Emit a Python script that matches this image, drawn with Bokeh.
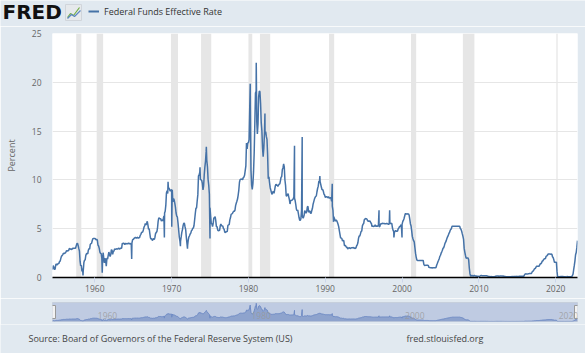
import numpy as np
import pandas as pd
from bokeh.plotting import figure
from bokeh.layouts import column
from bokeh.models import (Range1d, FixedTicker, DatetimeTickFormatter, Label,
                          Legend, LegendItem)
from bokeh.embed import file_html
from bokeh.resources import INLINE

# ---------------- data ----------------
series_start = "1954-07-01"   # monthly, first value

ff_1950s = [0.80, 1.22, 1.07, 0.85, 0.83, 1.28,
            1.39, 1.29, 1.35, 1.43, 1.43, 1.64, 1.68, 1.96, 2.18, 2.24, 2.35, 2.48,
            2.45, 2.50, 2.50, 2.62, 2.75, 2.71, 2.75, 2.73, 2.95, 2.96, 2.88, 2.94,
            2.84, 3.00, 2.96, 3.00, 3.00, 3.00, 2.99, 3.24, 3.47, 3.50, 3.28, 2.98,
            2.72, 1.67, 1.20, 1.26, 0.63, 0.93, 0.68, 1.53, 1.76, 1.80, 2.27, 2.42,
            2.48, 2.43, 2.80, 2.96, 2.90, 3.39, 3.47, 3.50, 3.76, 3.98, 4.00, 3.99]
ff_1960s = [3.99, 3.97, 3.84, 3.92, 3.85, 3.32, 3.23, 2.98, 2.60, 2.47, 2.44, 1.98,
            1.45, 2.54, 2.02, 1.49, 1.98, 1.73, 1.17, 2.00, 1.88, 2.26, 2.61, 2.33,
            2.15, 2.37, 2.85, 2.78, 2.36, 2.68, 2.71, 2.93, 2.90, 2.90, 2.94, 2.93,
            2.92, 3.00, 2.98, 2.90, 3.00, 2.99, 3.02, 3.49, 3.48, 3.50, 3.48, 3.38,
            3.48, 3.48, 3.43, 3.47, 3.50, 3.50, 3.42, 3.50, 3.45, 3.36, 3.52, 3.85,
            3.90, 3.98, 4.04, 4.09, 4.10, 4.04, 4.09, 4.12, 4.01, 4.08, 4.10, 4.32,
            4.42, 4.60, 4.65, 4.67, 4.90, 5.17, 5.30, 5.53, 5.40, 5.53, 5.76, 5.40,
            4.94, 5.00, 4.53, 4.05, 3.94, 3.98, 3.79, 3.90, 3.99, 3.88, 4.13, 4.51,
            4.61, 4.71, 5.05, 5.76, 6.11, 6.07, 6.02, 6.03, 5.78, 5.91, 5.82, 6.02,
            6.30, 6.61, 6.79, 7.41, 8.67, 8.90, 8.61, 9.19, 9.15, 9.00, 8.85, 8.97]
ff_1970s = [8.98, 8.98, 7.76, 8.10, 7.95, 7.61, 7.21, 6.61, 6.29, 6.20, 5.60, 4.90,
            4.14, 3.72, 3.71, 4.16, 4.63, 4.91, 5.31, 5.56, 5.55, 5.20, 4.91, 4.14,
            3.50, 3.29, 3.83, 4.17, 4.27, 4.46, 4.55, 4.80, 4.87, 5.04, 5.06, 5.33,
            5.94, 6.58, 7.09, 7.12, 7.84, 8.49, 10.40, 10.50, 10.78, 10.01, 10.03, 9.95,
            9.65, 8.97, 9.35, 10.51, 11.31, 11.93, 12.92, 12.01, 11.34, 10.06, 9.45, 8.53,
            7.13, 6.24, 5.54, 5.49, 5.22, 5.55, 6.10, 6.14, 6.24, 5.82, 5.22, 5.20,
            4.87, 4.77, 4.84, 4.82, 5.29, 5.48, 5.31, 5.29, 5.25, 5.02, 4.95, 4.65,
            4.61, 4.68, 4.69, 4.73, 5.35, 5.39, 5.42, 5.90, 6.14, 6.47, 6.51, 6.56,
            6.70, 6.78, 6.79, 6.89, 7.36, 7.60, 7.81, 8.04, 8.45, 8.96, 9.76, 10.03,
            10.07, 10.06, 10.09, 10.01, 10.24, 10.29, 10.47, 10.94, 11.43, 13.77, 13.18, 13.78]
ff_1980s = [13.82, 14.13, 17.19, 17.61, 10.98, 9.47, 9.03, 9.61, 10.87, 12.81, 15.85, 18.90,
            19.08, 15.93, 14.70, 15.72, 18.52, 19.10, 19.04, 17.82, 15.87, 15.08, 13.31, 12.37,
            13.22, 14.78, 14.68, 14.94, 14.45, 14.15, 12.59, 10.12, 10.31, 9.71, 9.20, 8.95,
            8.68, 8.51, 8.77, 8.80, 8.63, 8.98, 9.37, 9.56, 9.45, 9.48, 9.34, 9.47,
            9.56, 9.59, 9.91, 10.29, 10.32, 11.06, 11.23, 11.64, 11.30, 9.99, 9.43, 8.38,
            8.35, 8.50, 8.58, 8.27, 7.97, 7.53, 7.88, 7.90, 7.92, 7.99, 8.05, 8.27,
            8.14, 7.86, 7.48, 6.99, 6.85, 6.92, 6.56, 6.17, 5.89, 5.85, 6.04, 6.91,
            6.43, 6.10, 6.13, 6.37, 6.85, 6.73, 6.58, 6.73, 7.22, 7.29, 6.69, 6.77,
            6.83, 6.58, 6.58, 6.87, 7.09, 7.51, 7.75, 8.01, 8.19, 8.30, 8.35, 8.76,
            9.12, 9.36, 9.85, 9.84, 9.81, 9.53, 9.24, 8.99, 9.02, 8.84, 8.55, 8.45]
ff_1990s = [8.23, 8.24, 8.28, 8.26, 8.18, 8.29, 8.15, 8.13, 8.20, 8.11, 7.81, 7.31,
            6.91, 6.25, 6.12, 5.91, 5.78, 5.90, 5.82, 5.66, 5.45, 5.21, 4.81, 4.43,
            4.03, 4.06, 3.98, 3.73, 3.82, 3.76, 3.25, 3.30, 3.22, 3.10, 3.09, 2.92,
            3.02, 3.03, 3.07, 2.96, 3.00, 3.04, 3.06, 3.03, 3.09, 2.99, 3.02, 2.96,
            3.05, 3.25, 3.34, 3.56, 4.01, 4.25, 4.26, 4.47, 4.73, 4.76, 5.29, 5.45,
            5.53, 5.92, 5.98, 6.05, 6.01, 6.00, 5.85, 5.74, 5.80, 5.76, 5.80, 5.60,
            5.56, 5.22, 5.31, 5.22, 5.24, 5.27, 5.40, 5.22, 5.30, 5.24, 5.31, 5.29,
            5.25, 5.19, 5.39, 5.51, 5.50, 5.56, 5.52, 5.54, 5.54, 5.50, 5.52, 5.50,
            5.56, 5.51, 5.49, 5.45, 5.49, 5.56, 5.54, 5.55, 5.51, 5.07, 4.83, 4.68,
            4.63, 4.76, 4.81, 4.74, 4.74, 4.76, 4.99, 5.07, 5.22, 5.20, 5.42, 5.30]
ff_2000s = [5.45, 5.73, 5.85, 6.02, 6.27, 6.53, 6.54, 6.50, 6.52, 6.51, 6.51, 6.40,
            5.98, 5.49, 5.31, 4.80, 4.21, 3.97, 3.77, 3.65, 3.07, 2.49, 2.09, 1.82,
            1.73, 1.74, 1.73, 1.75, 1.75, 1.75, 1.73, 1.74, 1.75, 1.75, 1.34, 1.24,
            1.24, 1.26, 1.25, 1.26, 1.26, 1.22, 1.01, 1.03, 1.01, 1.01, 1.00, 0.98,
            1.00, 1.01, 1.00, 1.00, 1.00, 1.03, 1.26, 1.43, 1.61, 1.76, 1.93, 2.16,
            2.28, 2.50, 2.63, 2.79, 3.00, 3.04, 3.26, 3.50, 3.62, 3.78, 4.00, 4.16,
            4.29, 4.49, 4.59, 4.79, 4.94, 4.99, 5.24, 5.25, 5.25, 5.25, 5.25, 5.24,
            5.25, 5.26, 5.26, 5.25, 5.25, 5.25, 5.26, 5.02, 4.94, 4.76, 4.49, 4.24,
            3.94, 2.98, 2.61, 2.28, 1.98, 2.00, 2.01, 2.00, 1.81, 0.97, 0.39, 0.16,
            0.15, 0.22, 0.18, 0.15, 0.18, 0.21, 0.16, 0.16, 0.15, 0.12, 0.12, 0.12]
ff_2010s = [0.11, 0.13, 0.16, 0.20, 0.20, 0.18, 0.18, 0.19, 0.19, 0.19, 0.19, 0.18,
            0.17, 0.16, 0.14, 0.10, 0.09, 0.09, 0.07, 0.10, 0.08, 0.07, 0.08, 0.07,
            0.08, 0.10, 0.13, 0.14, 0.16, 0.16, 0.16, 0.13, 0.14, 0.16, 0.16, 0.16,
            0.14, 0.15, 0.14, 0.15, 0.11, 0.09, 0.09, 0.08, 0.08, 0.09, 0.08, 0.09,
            0.07, 0.07, 0.08, 0.09, 0.09, 0.10, 0.09, 0.09, 0.09, 0.09, 0.09, 0.12,
            0.11, 0.11, 0.11, 0.12, 0.12, 0.13, 0.13, 0.14, 0.14, 0.12, 0.12, 0.24,
            0.34, 0.38, 0.36, 0.37, 0.37, 0.38, 0.39, 0.40, 0.40, 0.40, 0.41, 0.54,
            0.65, 0.66, 0.79, 0.90, 0.91, 1.04, 1.15, 1.16, 1.15, 1.15, 1.16, 1.30,
            1.41, 1.42, 1.51, 1.69, 1.70, 1.82, 1.91, 1.91, 1.95, 2.19, 2.20, 2.27,
            2.40, 2.40, 2.41, 2.42, 2.39, 2.38, 2.40, 2.13, 2.04, 1.83, 1.55, 1.55]
ff_2020s = [1.55, 1.58, 0.65, 0.05, 0.05, 0.08, 0.09, 0.10, 0.09, 0.09, 0.09, 0.09,
            0.09, 0.08, 0.07, 0.07, 0.06, 0.08, 0.10, 0.09, 0.08, 0.08, 0.08, 0.08,
            0.08, 0.08, 0.20, 0.33, 0.77, 1.21, 1.68, 2.33, 2.56, 3.08, 3.78]

# short-lived weekly spikes visible in the chart
spike_dates = ["1958-06-20", "1960-12-21", "1964-10-21", "1969-01-22", "1969-07-16",
               "1970-01-07", "1971-02-24", "1972-01-26", "1973-09-12", "1974-07-10",
               "1974-12-31", "1980-03-26", "1981-01-07", "1982-02-24", "1985-12-31",
               "1986-12-31", "1989-04-19", "1990-11-28", "1991-01-30", "1996-12-31",
               "1998-05-20", "1998-12-09", "1999-12-29"]
spike_values = [0.2, 0.5, 1.9, 4.1, 9.8,
                5.2, 3.2, 2.95, 11.3, 13.4,
                4.0, 19.85, 22.0, 16.8, 13.5,
                14.4, 10.4, 9.6, 5.7, 6.9,
                6.9, 4.1, 4.1]

rec_start = ["1957-08-01", "1960-04-01", "1969-12-01", "1973-11-01", "1980-01-01",
             "1981-07-01", "1990-07-01", "2001-03-01", "2007-12-01", "2020-02-01"]
rec_end = ["1958-04-01", "1961-02-01", "1970-11-01", "1975-03-01", "1980-07-01",
           "1982-11-01", "1991-03-01", "2001-11-01", "2009-06-01", "2020-04-01"]

x_tick_years = [1960, 1970, 1980, 1990, 2000, 2010, 2020]
y_ticks = [0, 5, 10, 15, 20, 25]
nav_label_years = [1960, 1980, 2000, 2020]

logo_text = "FRED"
series_name = "Federal Funds Effective Rate"
y_title = "Percent"
source_text = "Source: Board of Governors of the Federal Reserve System (US)"
site_text = "fred.stlouisfed.org"

# ---------------- build ----------------
monthly = ff_1950s + ff_1960s + ff_1970s + ff_1980s + ff_1990s + ff_2000s + ff_2010s + ff_2020s
mdates = pd.date_range(series_start, periods=len(monthly), freq="MS")
df = pd.concat([
    pd.DataFrame({"date": mdates, "rate": monthly}),
    pd.DataFrame({"date": pd.to_datetime(spike_dates), "rate": spike_values}),
]).sort_values("date").reset_index(drop=True)

x0, x1 = mdates[0], mdates[-1]

BG = "#e1e9f0"
LINE = "#4572a7"
FONT = "Open Sans"
W = 585


def strip(fig):
    fig.background_fill_color = BG
    fig.border_fill_color = BG
    fig.outline_line_color = None
    fig.xgrid.grid_line_color = None
    fig.ygrid.grid_line_color = None
    try:
        fig.frame_align = False
    except Exception:
        pass


def band(h):
    return figure(frame_width=W, frame_height=h, output_backend="svg", toolbar_location=None,
                  x_range=Range1d(0, W), y_range=Range1d(0, h),
                  x_axis_location=None, y_axis_location=None,
                  min_border=0, min_border_left=0, min_border_right=0,
                  min_border_top=0, min_border_bottom=0)


# ---- header (logo + legend) ----
head = band(26)
strip(head)
head.add_layout(Label(text=logo_text, x=2, y=14.5, text_font="DejaVu Sans",
                      text_font_size="20px", text_font_style="bold", text_color="#111111",
                      text_baseline="middle"))
# small chart icon next to the logo
head.quad(left=65, right=81, bottom=6, top=22, fill_color="#e6e9ec", line_color="#d0d5db")
head.line(x=[67, 70, 73, 79], y=[9, 13, 11, 19], line_color="#72ad45", line_width=1.2)
head.line(x=[67, 71, 74, 80], y=[8, 12, 10, 16], line_color="#5b86c2", line_width=1.2)
leg_r = head.line(x=[np.nan], y=[np.nan], line_color=LINE, line_width=2)
head.add_layout(Legend(items=[LegendItem(label=series_name, renderers=[leg_r])],
                       location=(88, 8), orientation="horizontal", padding=0, margin=0,
                       spacing=0, border_line_color=None, background_fill_alpha=0,
                       label_text_font=FONT, label_text_font_size="9px",
                       label_text_color="#333333", glyph_width=11, glyph_height=14,
                       label_height=14, label_standoff=5))

# ---- main chart ----
p = figure(width=W, height=272, x_axis_type="datetime", output_backend="svg",
           toolbar_location=None, x_range=Range1d(x0, x1), y_range=Range1d(0, 25),
           min_border_left=52, min_border_right=7, min_border_top=7, min_border_bottom=21)
p.background_fill_color = "white"
p.border_fill_color = BG
p.outline_line_color = None

p.quad(left=pd.to_datetime(rec_start), right=pd.to_datetime(rec_end), bottom=0, top=25,
       fill_color="#e6e6e6", line_color=None, level="underlay")
p.line(df["date"], df["rate"], line_color=LINE, line_width=1.5)

p.xaxis.ticker = FixedTicker(ticks=[pd.Timestamp(f"{y}-01-01").value / 1e6 for y in x_tick_years])
p.xaxis.formatter = DatetimeTickFormatter(years="%Y", months="%Y", days="%Y", hours="%Y")
p.xaxis.axis_line_color = "#000000"
p.xaxis.axis_line_width = 1.5
p.xaxis.major_tick_line_color = "#ccd6eb"
p.xaxis.major_tick_out = 5
p.xaxis.major_tick_in = 0
p.xaxis.minor_tick_line_color = None
p.xaxis.major_label_standoff = 2
p.xaxis.major_label_text_font = FONT
p.xaxis.major_label_text_font_size = "8.5px"
p.xaxis.major_label_text_color = "#666666"

p.yaxis.ticker = FixedTicker(ticks=y_ticks)
p.yaxis.axis_line_color = None
p.yaxis.major_tick_line_color = None
p.yaxis.major_tick_out = 0
p.yaxis.major_tick_in = 0
p.yaxis.minor_tick_line_color = None
p.yaxis.major_label_standoff = 11
p.yaxis.major_label_text_font = FONT
p.yaxis.major_label_text_font_size = "8.5px"
p.yaxis.major_label_text_color = "#666666"
p.yaxis.axis_label = y_title
p.yaxis.axis_label_standoff = 11
p.yaxis.axis_label_text_font = FONT
p.yaxis.axis_label_text_font_size = "9px"
p.yaxis.axis_label_text_font_style = "normal"
p.yaxis.axis_label_text_color = "#666666"

p.xgrid.grid_line_color = None
p.ygrid.grid_line_color = "#e6e6e6"

# ---- navigator ----
nav = figure(width=W, height=26, output_backend="svg", toolbar_location=None,
             x_range=p.x_range, y_range=Range1d(0, 23),
             x_axis_location=None, y_axis_location=None,
             min_border_left=51, min_border_right=8, min_border_top=4, min_border_bottom=3)
nav.background_fill_color = "#bfcbe2"
nav.border_fill_color = BG
nav.outline_line_color = "#c6cfdc"
nav.xgrid.grid_line_color = None
nav.ygrid.grid_line_color = None
nav.varea(x=df["date"], y1=0, y2=df["rate"], fill_color="#8ea3cd")
nav.line(df["date"], df["rate"], line_color="#6f8bc4", line_width=1)
for yr in nav_label_years:
    nav.add_layout(Label(text=str(yr), x=pd.Timestamp(f"{yr}-01-01"), y=6,
                         x_units="data", y_units="screen", x_offset=3,
                         text_font=FONT, text_font_size="8.5px", text_color="#999999",
                         text_alpha=0.8, text_baseline="middle"))
nav.rect(x=[x0, x1], y=[11.5, 11.5], width=6, height=13, width_units="screen",
         height_units="screen", fill_color="#f2f2f2", line_color="#999999")

# ---- footer ----
foot = band(29)
strip(foot)
foot.add_layout(Label(text=source_text, x=28, y=15, text_font=FONT, text_font_size="9px",
                      text_color="#444444", text_baseline="middle"))
foot.add_layout(Label(text=site_text, x=406, y=15, text_font=FONT, text_font_size="9px",
                      text_color="#444444", text_baseline="middle"))

layout = column(head, p, nav, foot, spacing=0)
open("out.html", "w").write(file_html(layout, INLINE))
